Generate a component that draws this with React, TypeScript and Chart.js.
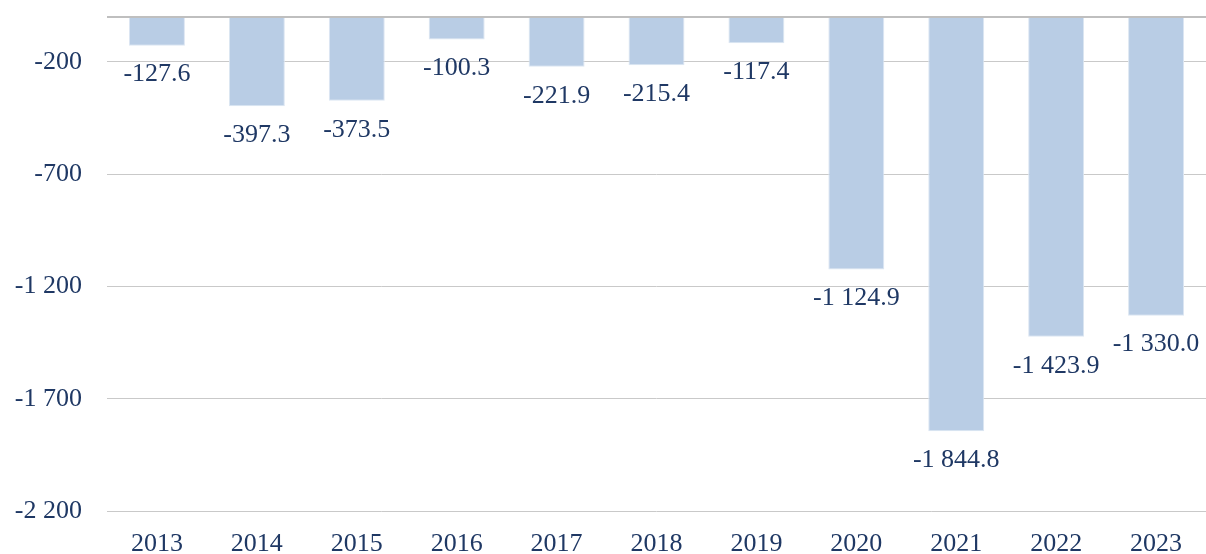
import React, { useEffect, useRef } from "react";
import { Chart, registerables } from "chart.js";

Chart.register(...registerables);

const years = ["2013", "2014", "2015", "2016", "2017", "2018", "2019", "2020", "2021", "2022", "2023"];
const values = [-127.6, -397.3, -373.5, -100.3, -221.9, -215.4, -117.4, -1124.9, -1844.8, -1423.9, -1330.0];
const yTicks = [0, -200, -700, -1200, -1700, -2200];

const TEXT = "#1F3864";
const FONT = "'Liberation Serif', 'Times New Roman', serif";

function fmt(v: number, dec: number): string {
  const neg = v < 0;
  const s = Math.abs(v).toFixed(dec);
  const [i, d] = s.split(".");
  const ii = i.replace(/\B(?=(\d{3})+(?!\d))/g, " ");
  return (neg ? "-" : "") + ii + (d ? "." + d : "");
}

const labelPlugin = {
  id: "barLabels",
  afterDatasetsDraw(chart: any) {
    const ctx = chart.ctx;
    const meta = chart.getDatasetMeta(0);
    ctx.save();
    ctx.fillStyle = TEXT;
    ctx.font = `26px ${FONT}`;
    ctx.textAlign = "center";
    ctx.textBaseline = "middle";
    meta.data.forEach((bar: any, i: number) => {
      ctx.fillText(fmt(values[i], 1), bar.x, bar.y + 29);
    });
    ctx.restore();
  },
};

export default function App() {
  const ref = useRef<HTMLCanvasElement>(null);
  useEffect(() => {
    if (!ref.current) return;
    const chart = new Chart(ref.current, {
      type: "bar",
      data: {
        labels: years,
        datasets: [
          {
            data: values,
            backgroundColor: "#B9CDE5",
            borderColor: "#DCE6F2",
            borderWidth: 1,
            categoryPercentage: 1,
            barPercentage: 0.56,
          },
        ],
      },
      plugins: [labelPlugin],
      options: {
        animation: false,
        responsive: false,
        maintainAspectRatio: false,
        layout: { padding: { top: 17, right: 0, left: 0, bottom: 0 } },
        plugins: { legend: { display: false }, tooltip: { enabled: false } },
        scales: {
          x: {
            grid: { display: false, drawTicks: false },
            border: { display: false },
            ticks: { color: TEXT, font: { family: FONT, size: 26 }, padding: 18, maxRotation: 0 },
            afterFit(scale: any) {
              scale.height = 43;
              scale.paddingLeft = 0;
              scale.paddingRight = 0;
            },
          },
          y: {
            min: -2200,
            max: 0,
            afterBuildTicks(scale: any) {
              scale.ticks = yTicks.map((v) => ({ value: v }));
            },
            grid: {
              drawTicks: false,
              color: (c: any) => (c.tick && c.tick.value === 0 ? "#BFBFBF" : "#C9C9C9"),
              lineWidth: (c: any) => (c.tick && c.tick.value === 0 ? 2 : 1),
            },
            border: { display: false },
            ticks: {
              color: TEXT,
              font: { family: FONT, size: 26 },
              padding: 25,
              callback: (v: any) => (Number(v) === 0 ? "" : fmt(Number(v), 0)),
            },
            afterFit(scale: any) {
              scale.width = 107;
              scale.paddingTop = 0;
              scale.paddingBottom = 0;
            },
          },
        },
      },
    });
    return () => chart.destroy();
  }, []);
  return (
    <div style={{ position: "absolute", left: 0, top: 0, width: 1206, height: 554, background: "#fff" }}>
      <canvas ref={ref} width={1206} height={554} style={{ display: "block" }} />
    </div>
  );
}
